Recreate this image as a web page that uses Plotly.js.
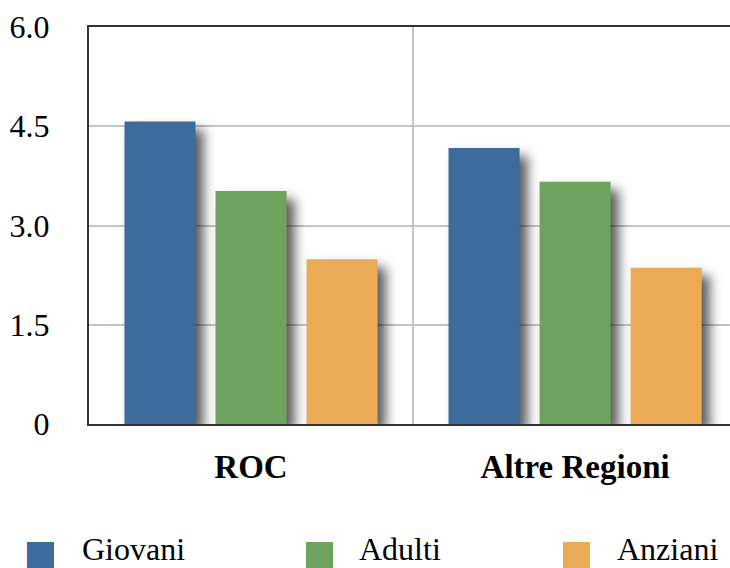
<!DOCTYPE html>
<html>
<head>
<meta charset="utf-8">
<script src="https://cdn.plot.ly/plotly-3.0.1.min.js"></script>
<style>
  html, body { margin: 0; padding: 0; background: #fff; }
  #chart { width: 730px; height: 568px; }
  .barlayer .point path { filter: drop-shadow(8px 8px 6px rgba(0,0,0,0.65)); }
  .annotation-text { font-family: "Liberation Serif", serif !important; }
</style>
</head>
<body>
<div id="chart"></div>
<script>
const categories = ["ROC", "Altre Regioni"];
const seriesNames = ["Giovani", "Adulti", "Anziani"];
const giovani = [4.57, 4.17];
const adulti = [3.52, 3.66];
const anziani = [2.49, 2.36];
const yTickVals = [0, 1.5, 3.0, 4.5, 6.0];
const yTickText = ["0", "1.5", "3.0", "4.5", "6.0"];

const colors = ["#3d6b9b", "#6ea35f", "#ebab56"];
const values = [giovani, adulti, anziani];

const traces = values.map((v, i) => ({
  type: "bar",
  name: seriesNames[i],
  x: categories,
  y: v,
  marker: { color: colors[i], line: { width: 0 } },
  cliponaxis: false,
  showlegend: false,
  hoverinfo: "none"
}));

const serif = "Liberation Serif";

// plot area in pixels: left 89, width 641, top 27, bottom 424
const PL = 89, PW = 641, PB = 424, PH = 397;
const px = x => (x - PL) / PW;
const py = y => (PB - y) / PH;

// legend layout (pixel positions of swatches and labels)
const swatchLeft = [27, 306, 563];
const labelLeft = [80, 357, 615];
const shapes = seriesNames.map((n, i) => ({
  type: "rect", xref: "paper", yref: "paper",
  x0: px(swatchLeft[i]), x1: px(swatchLeft[i] + 27),
  y0: py(542), y1: py(568),
  fillcolor: colors[i], line: { width: 0 }, layer: "above"
}));
const annotations = seriesNames.map((n, i) => ({
  text: n, xref: "paper", yref: "paper",
  x: px(labelLeft[i]), y: py(549), xanchor: "left", yanchor: "middle",
  showarrow: false, font: { family: serif, size: 32, color: "#000" }
}));

const layout = {
  width: 730, height: 568,
  font: { family: serif, color: "#000" },
  margin: { l: 89, r: 0, t: 27, b: 144, pad: 0, autoexpand: false },
  paper_bgcolor: "#fff", plot_bgcolor: "#fff",
  barmode: "group",
  bargap: 0.157,
  bargroupgap: 0.22,
  showlegend: false,
  shapes: shapes,
  annotations: annotations,
  xaxis: {
    type: "category",
    range: [-0.5, 1.478],
    autorange: false,
    tickson: "boundaries",
    ticks: "",
    showgrid: true, gridcolor: "#c4c4c4", gridwidth: 2,
    showline: true, linecolor: "#333", linewidth: 2, mirror: true,
    tickfont: { family: serif, size: 33, color: "#000", weight: "bold" },
    ticklabelstandoff: 12,
    fixedrange: true
  },
  yaxis: {
    range: [0, 6],
    autorange: false,
    tickmode: "array",
    tickvals: yTickVals,
    ticktext: yTickText,
    ticks: "",
    showgrid: true, gridcolor: "#c4c4c4", gridwidth: 2,
    zeroline: false,
    showline: true, linecolor: "#333", linewidth: 2,
    tickfont: { family: serif, size: 32, color: "#000" },
    ticklabelstandoff: 31,
    fixedrange: true
  }
};

Plotly.newPlot("chart", traces, layout, { displayModeBar: false, staticPlot: true });
</script>
</body>
</html>
